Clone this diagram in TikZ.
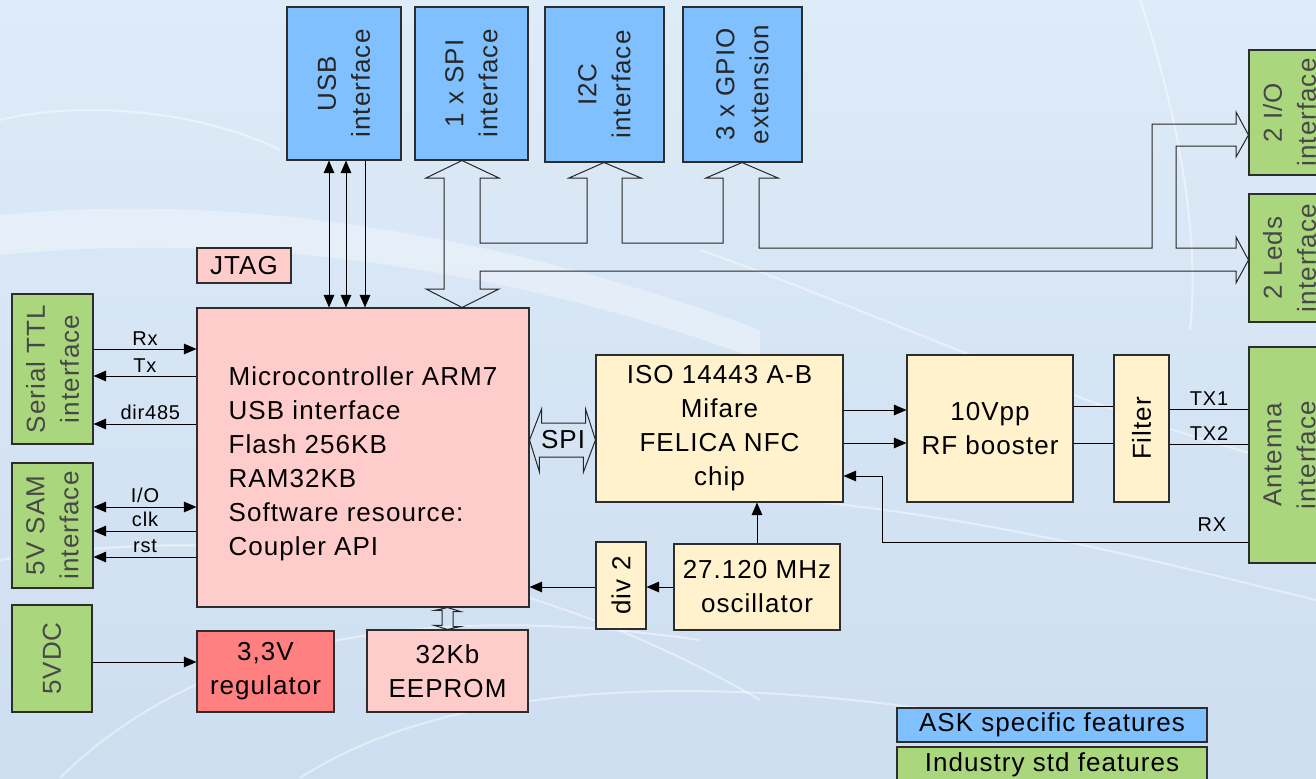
\documentclass[tikz,border=0pt]{standalone}
\usepackage{fontspec}
\setmainfont{Liberation Sans}[LetterSpace=4]
\usetikzlibrary{arrows.meta,calc}
\definecolor{bgtop}{RGB}{222,235,248}
\definecolor{bgbot}{RGB}{205,222,240}
\definecolor{bluebox}{RGB}{128,192,255}
\definecolor{greenbox}{RGB}{170,215,125}
\definecolor{pinkbox}{RGB}{255,204,204}
\definecolor{creambox}{RGB}{255,242,204}
\definecolor{redbox}{RGB}{255,128,128}
\definecolor{edge}{RGB}{45,45,45}
\newcommand\dgBig{\fontsize{19.5}{25.5}\selectfont}
\newcommand\dgSmall{\fontsize{15}{17}\selectfont}
\begin{document}
\begin{tikzpicture}[x=0.75pt,y=-0.75pt,
  box/.style={draw=edge, line width=0.8pt, inner sep=0pt, align=center, font=\dgBig, text=black},
  sz/.style 2 args={minimum width=#1*0.75pt, minimum height=#2*0.75pt},
  rsz/.style 2 args={rotate=90, minimum width=#2*0.75pt, minimum height=#1*0.75pt},
  blue/.style={box, fill=bluebox, text=black!85},
  green/.style={box, fill=greenbox, text=black!72},
  pink/.style={box, fill=pinkbox},
  cream/.style={box, fill=creambox},
  wire/.style={draw=black, line width=0.75pt},
  arr/.style={wire, -{Triangle[length=9.5pt,width=8pt]}},
  darr/.style={wire, {Triangle[length=9.5pt,width=8pt]}-{Triangle[length=9.5pt,width=8pt]}},
  bus/.style={draw=black!85, line width=0.75pt, line join=miter},
  lbl/.style={font=\dgSmall, inner sep=2.5pt, text=black},
]
\useasboundingbox (0,0) rectangle (1316,778);
\clip (0,0) rectangle (1316,778);
% background
\shade[top color=bgtop, bottom color=bgbot] (0,0) rectangle (1316,778);
\begin{scope}[white, opacity=0.45, line width=1.5pt]
  \fill[white, opacity=0.35] (0,215) .. controls (250,190) and (520,240) .. (760,330) -- (760,360) .. controls (520,270) and (250,230) .. (0,255) -- cycle;
  \draw (0,560) .. controls (250,520) and (520,560) .. (760,700);
  \draw (60,778) .. controls (200,640) and (420,600) .. (700,640);
  \draw (300,778) .. controls (420,700) and (640,660) .. (1000,720);
  \draw (700,250) .. controls (900,320) and (1100,420) .. (1316,470);
  \draw (800,500) .. controls (1000,520) and (1150,560) .. (1316,600);
  \draw (1140,0) .. controls (1180,120) and (1200,240) .. (1190,330);
  \draw (0,120) .. controls (80,100) and (200,110) .. (280,150);
\end{scope}

% blue interface boxes (rotated: screen bottom = .west, screen right = .south)
\node[blue, rsz={114}{153}] (usb)  at (344,83.5)   {USB\\interface};
\node[blue, rsz={113}{153}] (spi)  at (471.5,83.5) {1 x SPI\\interface};
\node[blue, rsz={119}{155}] (i2c)  at (604.5,84.5) {I2C\\interface};
\node[blue, rsz={119}{155}] (gpio) at (742.5,84.5) {3 x GPIO\\extension};

% green boxes
\node[green, rsz={81}{125}] (io2)    at (1289.5,112.5) {2 I/O\\interface};
\node[green, rsz={81}{128}] (leds)   at (1289.5,258)   {2 Leds\\interface};
\node[green, rsz={81}{150}] (serial) at (52.5,369)     {Serial TTL\\interface};
\node[green, rsz={81}{125}] (sam)    at (52.5,525.5)   {5V SAM\\interface};
\node[green, rsz={80}{107}] (vdc)    at (52,658.5)     {5VDC};
\node[green, rsz={81}{216}] (ant)    at (1289.5,455)   {Antenna\\interface};

% pink / red boxes
\node[pink, sz={94}{35}] (jtag) at (244,265.5) {JTAG};
\node[pink, sz={332}{299}, align=left] (micro) at (363,457.5)
  {\rule{0pt}{23pt}Microcontroller ARM7\\USB interface\\Flash 256KB\\RAM32KB\\Software resource:\\Coupler API};
\node[box, fill=redbox, sz={137}{81}] (reg) at (265.5,671.5) {3,3V\\regulator};
\node[pink, sz={161}{82}] (eeprom) at (447.5,671) {32Kb\\EEPROM};

% cream boxes
\node[cream, sz={247}{147}] (iso) at (719.5,428.5) {ISO 14443 A-B\\Mifare\\FELICA NFC\\chip};
\node[cream, rsz={50}{87}] (div2) at (621,585.5) {div 2};
\node[cream, sz={166}{86}] (osc) at (757,587) {27.120 MHz\\oscillator};
\node[cream, sz={166}{147}] (rf) at (990,428.5) {10Vpp\\RF booster};
\node[cream, rsz={55}{147}] (filter) at (1141.5,428.5) {Filter};

% legend
\node[blue, sz={310}{34}, text=black] (ask) at (1052,725) {ASK specific features};
\node[green, sz={310}{36}, text=black] (ind) at (1052,765) {Industry std features};

% USB lines
\draw[darr] ([xshift=-15*0.75pt]usb.west) -- ([xshift=-15*0.75pt]usb.west |- micro.north);
\draw[darr] ([xshift=2*0.75pt]usb.west) -- ([xshift=2*0.75pt]usb.west |- micro.north);
\draw[arr]  ([xshift=21*0.75pt]usb.west) -- ([xshift=21*0.75pt]usb.west |- micro.north);

% big bus
\draw[bus] (spi.west -| 462,0) -- (499,178) -- (480,178) -- (480,243) -- (587,243) -- (587,178) -- (569,178)
  -- (i2c.west -| 604,0) -- (641,178) -- (622,178) -- (622,243) -- (723,243) -- (723,178) -- (706,178)
  -- (gpio.west -| 742,0) -- (778,178) -- (759,178) -- (759,248) -- (1152,248) -- (1152,124) -- (1236,124) -- (1236,112)
  -- (io2.north |- 0,135) -- (1236,157) -- (1236,146) -- (1176,146) -- (1176,248) -- (1236,248) -- (1236,237)
  -- (leds.north |- 0,260) -- (1236,283) -- (1236,271) -- (480,271) -- (480,289) -- (499,289)
  -- (micro.north -| 462,0) -- (426,289) -- (444,289) -- (444,178) -- (426,178) -- cycle;

% serial
\draw[arr] (serial.south |- 0,349) -- node[lbl, midway, above] {Rx} (micro.west |- 0,349);
\draw[arr] (micro.west |- 0,376) -- node[lbl, midway, above] {Tx} (serial.south |- 0,376);
\draw[arr] (micro.west |- 0,424) -- node[lbl, midway, above, xshift=4pt] {dir485} (serial.south |- 0,424);
% SAM
\draw[darr] (sam.south |- 0,507) -- node[lbl, midway, above] {I/O} (micro.west |- 0,507);
\draw[arr] (micro.west |- 0,531) -- node[lbl, midway, above] {clk} (sam.south |- 0,531);
\draw[arr] (micro.west |- 0,557) -- node[lbl, midway, above] {rst} (sam.south |- 0,557);

% power
\draw[arr] (vdc.south |- 0,662) -- (reg.west |- 0,662);

% eeprom small bus
\draw[bus] (eeprom.north |- micro.south) -- ++(13,4) -- ++(-7.5,0) -- ++(0,15) -- ++(7.5,0) -- (eeprom.north)
  -- ++(-13,-4) -- ++(7.5,0) -- ++(0,-15) -- ++(-7.5,0) -- cycle;

% SPI double arrow
\draw[bus] (micro.east |- 0,440) -- ++(12,-31) -- ++(0,14) -- ++(44,0) -- ++(0,-14) -- (iso.west |- 0,440)
  -- ++(-12,32) -- ++(0,-15) -- ++(-44,0) -- ++(0,15) -- cycle;
\node[font=\dgBig, inner sep=0pt] (spilbl) at (563,440) {SPI};

% NFC chain
\draw[arr] (iso.east |- 0,410) -- (rf.west |- 0,410);
\draw[arr] (iso.east |- 0,443) -- (rf.west |- 0,443);
\draw[wire] (rf.east |- 0,406) -- (filter.north |- 0,406);
\draw[wire] (rf.east |- 0,443) -- (filter.north |- 0,443);
\draw[wire] (filter.south |- 0,409) -- node[lbl, midway, above] {TX1} (ant.north |- 0,409);
\draw[wire] (filter.south |- 0,444) -- node[lbl, midway, above] {TX2} (ant.north |- 0,444);
\draw[arr] (ant.north |- 0,542) -- node[lbl, pos=0.1, above=5pt] {RX} (882,542) -- (882,476) -- (iso.east |- 0,476);

% oscillator
\draw[arr] (osc.north) -- (iso.south -| osc.north);
\draw[arr] (osc.west) -- (div2.south |- osc.west);
\draw[arr] (div2.north |- osc.west) -- (micro.east |- osc.west);
\end{tikzpicture}
\end{document}
